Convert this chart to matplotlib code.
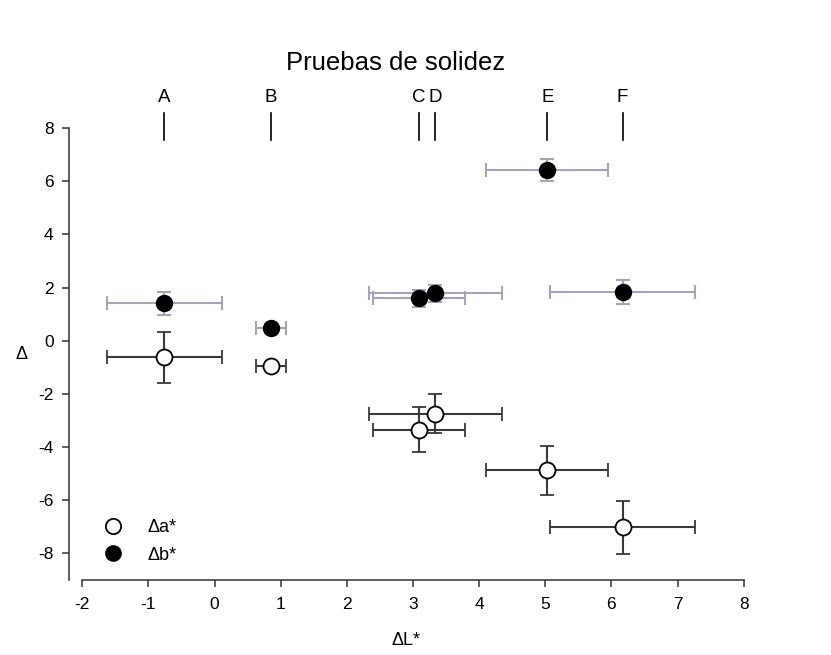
import matplotlib.pyplot as plt

plt.rcParams['font.family'] = ['Liberation Sans', 'DejaVu Sans']
plt.rcParams['axes.unicode_minus'] = False

# Data
labels = ["A", "B", "C", "D", "E", "F"]
dL = [-0.76, 0.85, 3.09, 3.34, 5.03, 6.17]
dL_err = [0.87, 0.23, 0.70, 1.00, 0.92, 1.10]

da = [-0.63, -0.97, -3.34, -2.74, -4.88, -7.01]
da_err = [0.97, 0.10, 0.83, 0.72, 0.91, 1.00]

db = [1.40, 0.46, 1.59, 1.78, 6.42, 1.83]
db_err = [0.43, 0.08, 0.33, 0.32, 0.41, 0.45]

fig = plt.figure(figsize=(8.31, 6.55), dpi=100)
ax = fig.add_axes([0.083, 0.1145, 0.812, 0.6901])

ax.errorbar(dL, db, xerr=dL_err, yerr=db_err, fmt='o', color='black',
            ecolor='#a4a4bc', elinewidth=1.5, capsize=4.7, capthick=1.5,
            markersize=11.5, markerfacecolor='black', markeredgecolor='black',
            zorder=3)
ax.errorbar(dL, da, xerr=dL_err, yerr=da_err, fmt='o', color='black',
            ecolor='#3a3a3a', elinewidth=1.5, capsize=4.7, capthick=1.5,
            markersize=11.5, markerfacecolor='white', markeredgecolor='black',
            markeredgewidth=1.3, zorder=3)

ax.set_xlim(-2.2, 8)
ax.set_ylim(-9, 8)
ax.set_xticks(range(-2, 9))
ax.set_yticks(range(-8, 9, 2))
ax.spines['top'].set_visible(False)
ax.spines['right'].set_visible(False)
ax.spines['bottom'].set_bounds(-2, 8)
ax.spines['left'].set_bounds(-9, 8)
for s in ('left', 'bottom'):
    ax.spines[s].set_linewidth(1.1)
    ax.spines[s].set_color('#333333')
ax.tick_params(direction='out', length=5, width=1.1, color='#333333',
               labelsize=12.5)
ax.tick_params(axis='x', pad=7)
ax.tick_params(axis='y', pad=6)

ax.set_xlabel('\u0394L*', fontsize=13)
ax.xaxis.set_label_coords(0.5, -0.115)
ax.set_ylabel('\u0394', fontsize=13, rotation=0)
ax.yaxis.set_label_coords(-0.07, 0.48)

# sample markers above the plot
for lab, x in zip(labels, dL):
    ax.plot([x, x], [7.55, 8.57], color='black', lw=1.2, clip_on=False)
    ax.text(x, 9.15, lab, ha='center', va='center', fontsize=13.5)

fig.text(0.476, 0.904, 'Pruebas de solidez', ha='center', va='center',
         fontsize=18.5)

ax.legend([plt.Line2D([], [], marker='o', ls='', ms=11, mfc='white', mec='black', mew=1.3),
           plt.Line2D([], [], marker='o', ls='', ms=11, mfc='black', mec='black')],
          ['\u0394a*', '\u0394b*'], loc='lower left', bbox_to_anchor=(0.015, 0.0),
          frameon=False, fontsize=13, handletextpad=0.9, labelspacing=0.6)

fig.savefig('out.png', dpi=100)
